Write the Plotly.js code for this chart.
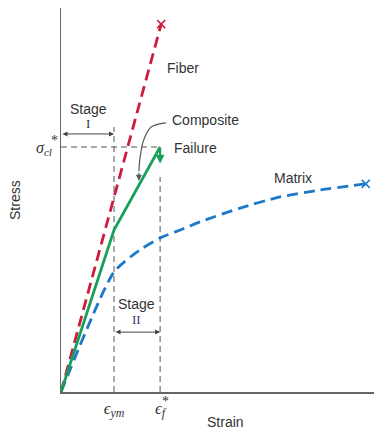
<!DOCTYPE html>
<html>
<head>
<meta charset="utf-8">
<script src="https://cdn.plot.ly/plotly-3.0.1.min.js"></script>
<style>html,body{margin:0;padding:0;background:#fff;}#chart{width:374px;height:430px;}</style>
</head>
<body>
<div id="chart"></div>
<script>
// Strain (arbitrary units) and stress (arbitrary units)
const epsYm = 1.0;
const epsF = 1.87;
const sigmaCl = 6.38;

const fiberStrain = [0, 1.89];
const fiberStress = [0, 9.58];

const matrixStrain = [0, 1.0, 1.49, 1.87, 2.25, 2.62, 3.38, 4.13, 4.89, 5.75];
const matrixStress = [0, 3.125, 3.70, 4.01, 4.22, 4.43, 4.79, 5.08, 5.26, 5.42];

const compositeStrain = [0, 1.0, 1.87, 1.87];
const compositeStress = [0, 4.22, 6.38, 5.95];

const pointerStrain = [1.98, 1.70, 1.56, 1.49, 1.47];
const pointerStress = [7.01, 6.90, 6.56, 6.09, 5.75];

const tickVals = [epsYm, epsF];
const tickText = ['<i>ϵ<sub>ym</sub></i>', '<i>ϵ<sub>f</sub></i>'];

const textCol = '#333';
const guide = '#555';
const sans = 'Liberation Sans, Arial, sans-serif';
const serif = 'Liberation Serif, Times New Roman, serif';

const traces = [
  {x:[epsYm, epsYm], y:[0, 6.9], mode:'lines', line:{color:guide, width:1, dash:'6px,4px'}, hoverinfo:'skip'},
  {x:[epsF, epsF], y:[0, 5.6], mode:'lines', line:{color:guide, width:1, dash:'6px,4px'}, hoverinfo:'skip'},
  {x:[0, epsF], y:[sigmaCl, sigmaCl], mode:'lines', line:{color:guide, width:1, dash:'6px,4px'}, hoverinfo:'skip'},
  {x:matrixStrain, y:matrixStress, mode:'lines', line:{color:'#1c78c8', width:2.8, dash:'11px,6px', shape:'spline', smoothing:0.6}, name:'Matrix'},
  {x:[matrixStrain[matrixStrain.length-1]], y:[matrixStress[matrixStress.length-1]], mode:'markers', marker:{symbol:'x-thin', size:8, line:{color:'#1c78c8', width:1.5}}},
  {x:fiberStrain, y:fiberStress, mode:'lines', line:{color:'#cc1d3c', width:2.8, dash:'11px,6px'}, name:'Fiber'},
  {x:[fiberStrain[1]], y:[fiberStress[1]], mode:'markers', marker:{symbol:'x-thin', size:8, line:{color:'#cc1d3c', width:1.5}}},
  {x:compositeStrain.slice(0,3), y:compositeStress.slice(0,3), mode:'lines', line:{color:'#16a05a', width:2.8}, name:'Composite'},
  {x:pointerStrain, y:pointerStress, mode:'lines', line:{color:'#555', width:1.2, shape:'spline'}, hoverinfo:'skip'}
];

const ann = (x, y, text, opts) => Object.assign({x, y, xref:'x', yref:'y', text, showarrow:false, xanchor:'center', yanchor:'middle', font:{family:sans, size:14, color:textCol}}, opts || {});
const pann = (x, y, text, opts) => Object.assign({x, y, xref:'paper', yref:'paper', text, showarrow:false, xanchor:'center', yanchor:'middle', font:{family:sans, size:14, color:textCol}}, opts || {});

const annotations = [
  ann(1.96, 8.44, 'Fiber', {xanchor:'left'}),
  ann(2.06, 7.08, 'Composite', {xanchor:'left'}),
  ann(2.09, 6.35, 'Failure', {xanchor:'left'}),
  ann(3.98, 5.57, 'Matrix', {xanchor:'left'}),
  ann(0.51, 7.38, 'Stage'),
  ann(0.51, 6.99, 'I', {font:{family:serif, size:13, color:textCol}}),
  ann(1.43, 2.30, 'Stage'),
  ann(1.43, 1.88, 'II', {font:{family:serif, size:13, color:'#3a3a6a'}}),
  pann(-0.055, 0.633, '<i>σ<sub>cl</sub></i>', {font:{family:serif, size:16, color:textCol}}),
  pann(-0.02, 0.655, '*', {font:{family:serif, size:14, color:textCol}}),
  pann(0.335, -0.025, '*', {font:{family:serif, size:14, color:textCol}}),
  // Stage I double arrow
  {x:epsYm, y:6.72, ax:0, ay:6.72, xref:'x', yref:'y', axref:'x', ayref:'y', text:'', showarrow:true, arrowhead:2, arrowside:'end+start', arrowsize:1, arrowwidth:1, arrowcolor:'#444'},
  // Stage II double arrow
  {x:epsF, y:1.56, ax:epsYm, ay:1.56, xref:'x', yref:'y', axref:'x', ayref:'y', text:'', showarrow:true, arrowhead:2, arrowside:'end+start', arrowsize:1, arrowwidth:1, arrowcolor:'#444'},
  // Failure drop arrow
  {x:compositeStrain[3], y:compositeStress[3], ax:compositeStrain[2], ay:compositeStress[2], xref:'x', yref:'y', axref:'x', ayref:'y', text:'', showarrow:true, arrowhead:2, arrowsize:0.8, arrowwidth:2.2, arrowcolor:'#16a05a', standoff:0},
  // pointer arrow head
  {x:pointerStrain[4], y:pointerStress[4]-0.25, ax:pointerStrain[4], ay:pointerStress[4], xref:'x', yref:'y', axref:'x', ayref:'y', text:'', showarrow:true, arrowhead:2, arrowsize:1, arrowwidth:1.2, arrowcolor:'#555'},
  pann(0.524, -0.078, 'Strain'),
  pann(-0.147, 0.50, 'Stress', {textangle:-90})
];

const layout = {
  width:374, height:430,
  margin:{l:61, r:0, t:8, b:38},
  paper_bgcolor:'#fff', plot_bgcolor:'#fff',
  showlegend:false,
  xaxis:{range:[0, 5.906], showgrid:false, zeroline:false, showline:true, linecolor:'#666', linewidth:1.5,
         tickmode:'array', tickvals:tickVals, ticktext:tickText, ticks:'', ticklen:0,
         tickfont:{family:serif, size:17, color:textCol}, fixedrange:true},
  yaxis:{range:[0, 10], showgrid:false, zeroline:false, showline:true, linecolor:'#666', linewidth:1.5,
         showticklabels:false, ticks:'', fixedrange:true},
  annotations
};

Plotly.newPlot('chart', traces, layout, {displayModeBar:false, staticPlot:true});
</script>
</body>
</html>
